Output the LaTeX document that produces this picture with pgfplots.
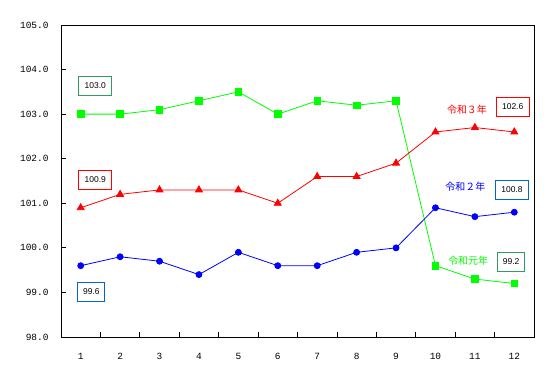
\documentclass[border=0pt]{standalone}
\usepackage{fontspec}
\setmainfont{Liberation Sans}
\newfontfamily\jp{Noto Sans CJK JP}
\newfontfamily\tickf{Liberation Mono}
\usepackage{pgfplots}
\pgfplotsset{compat=1.18}
\definecolor{boxgreen}{HTML}{339966}
\definecolor{boxblue}{HTML}{0066CC}
\definecolor{lgreen}{HTML}{00FF00}
\begin{document}
\begin{tikzpicture}
\path[use as bounding box] (-61bp,-38bp) rectangle (486bp,337bp);
\begin{axis}[
  at={(0,0)}, anchor=south west,
  scale only axis, width=473bp, height=312bp,
  xmin=0.5, xmax=12.5, ymin=98, ymax=105,
  xtick={1,...,12}, ytick={98,...,105},
  minor xtick={1.5,2.5,...,11.5},
  tick align=inside,
  xtick pos=bottom, ytick pos=left,
  major tick length=5bp, minor tick length=5bp,
  major x tick style={draw=none},
  tick style={black, line width=0.8bp},
  axis line style={line width=0.8bp},
  /pgf/number format/assume math mode=true,
  ticklabel style={font=\tickf\fontsize{9.5}{10}\selectfont},
  yticklabel style={/pgf/number format/fixed, /pgf/number format/fixed zerofill, /pgf/number format/precision=1, xshift=-9bp},
  xticklabel style={yshift=-13bp},
  clip=false,
]
\addplot[color=lgreen, line width=0.8bp, mark=square*, mark size=3.3bp, mark options={solid}] coordinates {
(1,103.0) (2,103.0) (3,103.1) (4,103.3) (5,103.5) (6,103.0) (7,103.3) (8,103.2) (9,103.3) (10,99.6) (11,99.3) (12,99.2)};
\addplot[color=red, line width=0.8bp, mark=triangle*, mark size=4bp] coordinates {
(1,100.9) (2,101.2) (3,101.3) (4,101.3) (5,101.3) (6,101.0) (7,101.6) (8,101.6) (9,101.9) (10,102.6) (11,102.7) (12,102.6)};
\addplot[color=blue, line width=0.8bp, mark=*, mark size=3bp] coordinates {
(1,99.6) (2,99.8) (3,99.7) (4,99.4) (5,99.9) (6,99.6) (7,99.6) (8,99.9) (9,100.0) (10,100.9) (11,100.7) (12,100.8)};

\tikzset{vbox/.style={fill=white, line width=0.8bp, minimum width=33bp, minimum height=19bp, inner sep=0pt, font=\fontsize{8.5}{9}\selectfont}}
\node[vbox, draw=boxgreen] at (axis cs:1.37,103.64) {103.0};
\node[vbox, draw=red] at (axis cs:1.37,101.53) {100.9};
\node[vbox, draw=boxblue, minimum width=27bp] at (axis cs:1.27,99.01) {99.6};
\node[vbox, draw=red] at (axis cs:11.96,103.17) {102.6};
\node[vbox, draw=boxblue] at (axis cs:11.94,101.3) {100.8};
\node[vbox, draw=boxgreen, minimum width=27bp] at (axis cs:11.92,99.69) {99.2};

\node[text=red, font=\jp\fontsize{10}{10}\selectfont] at (axis cs:10.8,103.09) {令和３年};
\node[text=blue, font=\jp\fontsize{10}{10}\selectfont] at (axis cs:10.76,101.37) {令和２年};
\node[text=lgreen, font=\jp\fontsize{10}{10}\selectfont] at (axis cs:10.83,99.72) {令和元年};
\end{axis}
\end{tikzpicture}
\end{document}
